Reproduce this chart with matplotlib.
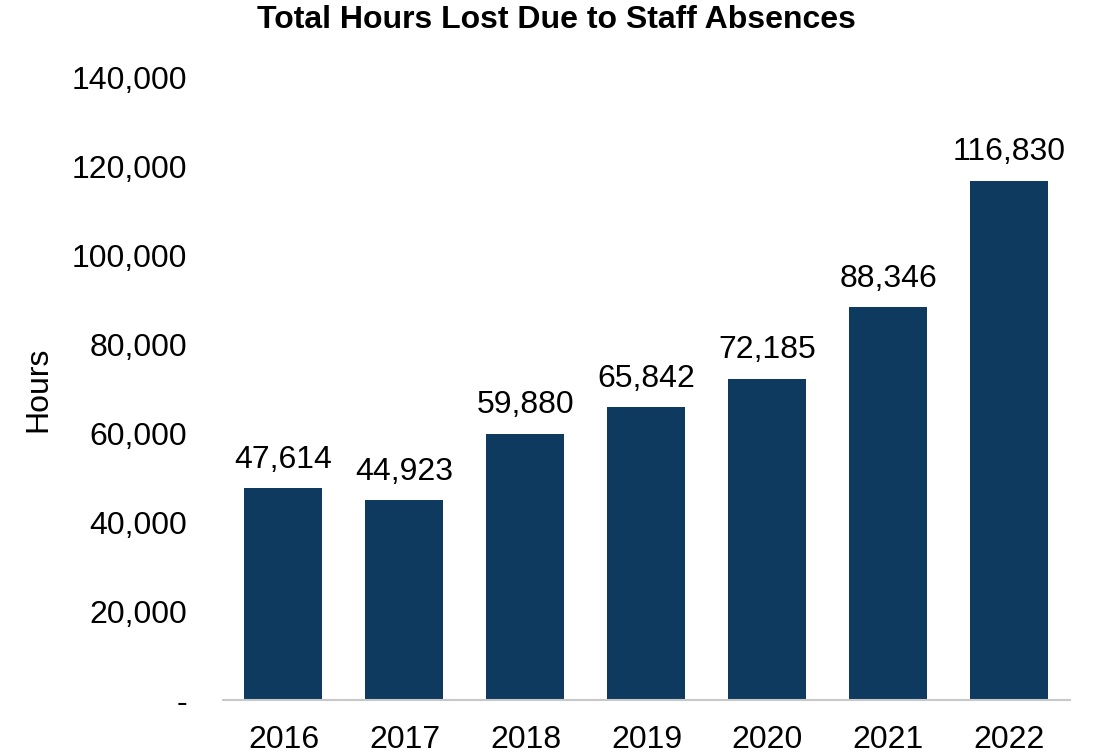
import matplotlib.pyplot as plt
from matplotlib.ticker import FuncFormatter

plt.rcParams['font.family'] = ['Liberation Sans', 'DejaVu Sans']

years = ['2016', '2017', '2018', '2019', '2020', '2021', '2022']
hours = [47614, 44923, 59880, 65842, 72185, 88346, 116830]

fig = plt.figure(figsize=(10.94, 7.54), dpi=100)
ax = fig.add_axes([0.2038, 0.0716, 0.7742, 0.825])

bars = ax.bar(years, hours, width=0.645, color='#0e3a5f')
ax.set_xlim(-0.5, len(years) - 0.5)
ax.set_ylim(0, 140000)
ax.set_yticks(range(0, 140001, 20000))

def fmt(v, pos):
    return '-' if v == 0 else f'{int(v):,}'

ax.yaxis.set_major_formatter(FuncFormatter(fmt))

for b, v in zip(bars, hours):
    ax.annotate(f'{v:,}', (b.get_x() + b.get_width() / 2, v),
                xytext=(0, 10), textcoords='offset points',
                ha='center', va='bottom', fontsize=23)

for s in ['top', 'right', 'left']:
    ax.spines[s].set_visible(False)
ax.spines['bottom'].set_color('#c8c8c8')
ax.spines['bottom'].set_linewidth(1.5)
ax.tick_params(axis='both', length=0, labelsize=23)
ax.tick_params(axis='y', pad=26)
ax.tick_params(axis='x', pad=18)

ax.set_ylabel('Hours', fontsize=23)
ax.yaxis.set_label_coords(-0.20, 0.5)
fig.text(0.509, 0.973, 'Total Hours Lost Due to Staff Absences', fontsize=23,
         fontweight='bold', ha='center', va='center')

fig.savefig('out.png', dpi=100)
